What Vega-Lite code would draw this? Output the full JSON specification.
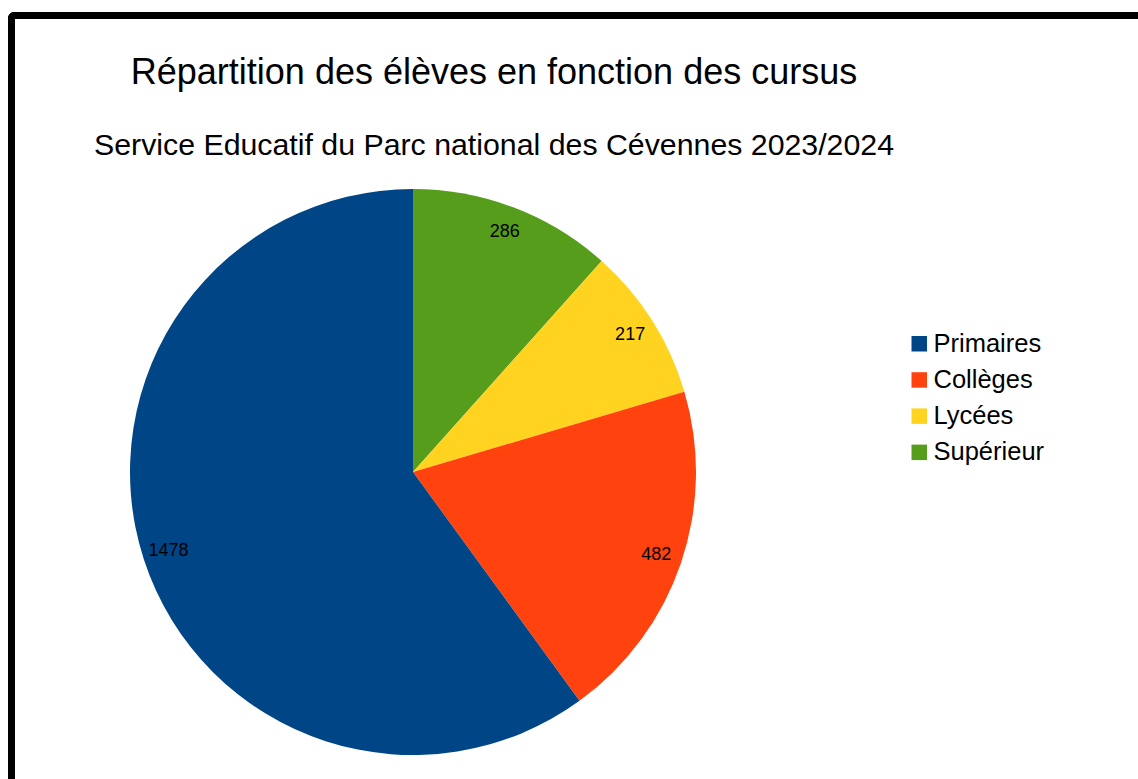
{
  "$schema": "https://vega.github.io/schema/vega-lite/v6.json",
  "autosize": {"type": "none"},
  "padding": {"left": 11.5, "top": 15.5, "right": 323.5, "bottom": 0},
  "width": 803,
  "height": 913,
  "background": "white",
  "config": {
    "view": {"stroke": null},
    "font": "Liberation Sans"
  },
  "title": {
    "text": "Répartition des élèves en fonction des cursus",
    "subtitle": "Service Educatif du Parc national des Cévennes 2023/2024",
    "anchor": "middle",
    "frame": "group",
    "dx": 81,
    "dy": 154,
    "fontSize": 36,
    "fontWeight": "normal",
    "color": "black",
    "subtitleFontSize": 30.3,
    "subtitleColor": "black",
    "subtitlePadding": 39,
    "font": "Liberation Sans",
    "subtitleFont": "Liberation Sans"
  },
  "data": {
    "values": [
      {"cursus": "Supérieur", "eleves": 286},
      {"cursus": "Lycées", "eleves": 217},
      {"cursus": "Collèges", "eleves": 482},
      {"cursus": "Primaires", "eleves": 1478}
    ]
  },
  "transform": [{"window": [{"op": "row_number", "as": "rang"}]}],
  "layer": [
    {
      "mark": {"type": "rect", "fill": null, "stroke": "black", "strokeWidth": 7, "cornerRadius": 3},
      "encoding": {
        "x": {"datum": 0, "type": "quantitative", "scale": {"domain": [0, 1], "nice": false, "zero": false}, "axis": null},
        "x2": {"datum": 2},
        "y": {"datum": 1, "type": "quantitative", "scale": {"domain": [0, 1], "nice": false, "zero": false}, "axis": null},
        "y2": {"datum": -1}
      }
    },
    {
      "mark": {"type": "arc", "outerRadius": 283},
      "encoding": {
        "theta": {"field": "eleves", "type": "quantitative", "stack": true},
        "order": {"field": "rang", "type": "quantitative"},
        "color": {
          "field": "cursus",
          "type": "nominal",
          "scale": {
            "domain": ["Primaires", "Collèges", "Lycées", "Supérieur"],
            "range": ["#004586", "#ff420e", "#ffd320", "#579d1c"]
          },
          "legend": {
            "title": null,
            "orient": "none",
            "legendX": 895,
            "legendY": 315.5,
            "symbolType": "square",
            "symbolSize": 240,
            "symbolStrokeWidth": 0,
            "labelFontSize": 25.5,
            "labelFont": "Liberation Sans",
            "labelColor": "black",
            "labelOffset": 1.5,
            "rowPadding": 9.2
          }
        }
      }
    },
    {
      "mark": {"type": "text", "radius": 257, "fontSize": 18, "font": "Liberation Sans", "color": "black"},
      "encoding": {
        "theta": {"field": "eleves", "type": "quantitative", "stack": true},
        "order": {"field": "rang", "type": "quantitative"},
        "text": {"field": "eleves", "type": "quantitative"}
      }
    }
  ]
}
